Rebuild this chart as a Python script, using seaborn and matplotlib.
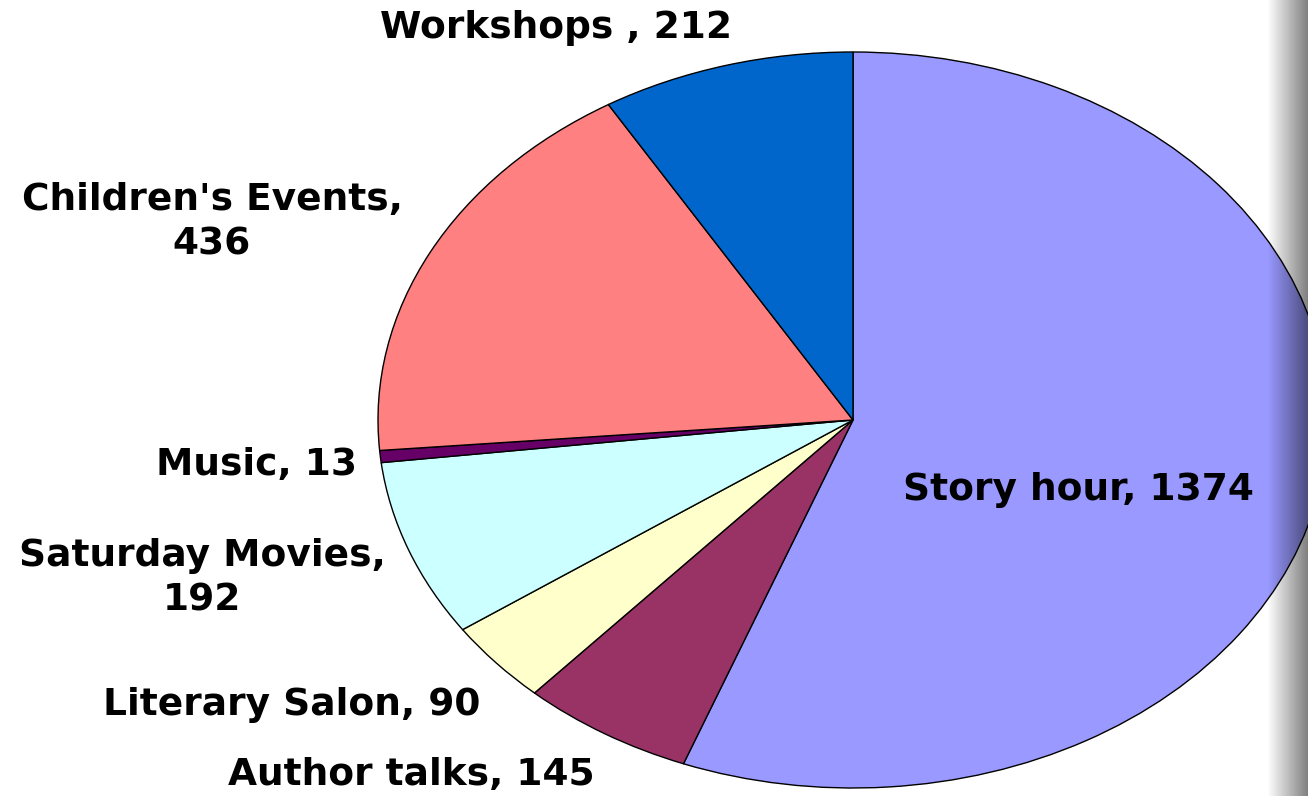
import numpy as np
import matplotlib
matplotlib.use("Agg")
import matplotlib.pyplot as plt
import seaborn as sns

categories = ["Story hour", "Author talks", "Literary Salon", "Saturday Movies",
              "Music", "Children's Events", "Workshops"]
values = [1374, 145, 90, 192, 13, 436, 212]
label_texts = ["Story hour, 1374", "Author talks, 145", "Literary Salon, 90",
               "Saturday Movies,\n192", "Music, 13", "Children's Events,\n436",
               "Workshops , 212"]
colors = ["#9999FF", "#993366", "#FFFFCC", "#CCFFFF", "#660066", "#FF8080", "#0066CC"]

# label centres in pixel coordinates (x from left, y from top)
label_pos = [(1078, 490), (411, 775), (292, 705), (202, 578), (257, 465),
             (212, 222), (556, 28)]

sns.set_theme(style="white")
plt.rcParams['font.family'] = ['DejaVu Sans']

W, H = 1308, 796
fig = plt.figure(figsize=(W / 100, H / 100), dpi=100)
fig.patch.set_facecolor("white")
ax = fig.add_axes([0, 0, 1, 1])

ax.pie(values, colors=colors, startangle=90, counterclock=False,
       wedgeprops=dict(edgecolor="black", linewidth=1.0))

# ellipse: centre (853,420) px, rx 475 px, ry 368 px
cx, cy, rx, ry = 853, 420, 475, 368
ax.set_aspect('auto')
ax.set_xlim(-cx / rx, (W - cx) / rx)
ax.set_ylim((cy - H) / ry, cy / ry)
ax.axis("off")

for txt, (px, py) in zip(label_texts, label_pos):
    ax.text(px / W, 1 - py / H, txt, transform=ax.transAxes, ha="center",
            va="center", fontsize=27, fontweight="bold", color="black",
            linespacing=1.3)

# grey shadow gradient at the right edge
x0 = 1267
gax = fig.add_axes([x0 / W, 0, (W - x0) / W, 1])
n = 64
grad = np.zeros((1, n, 4))
grad[0, :, 3] = np.linspace(0.0, 0.5, n)
gax.imshow(grad, aspect="auto", extent=(0, 1, 0, 1), interpolation="bilinear")
gax.axis("off")
gax.patch.set_alpha(0)

fig.savefig("out.png", dpi=100)
